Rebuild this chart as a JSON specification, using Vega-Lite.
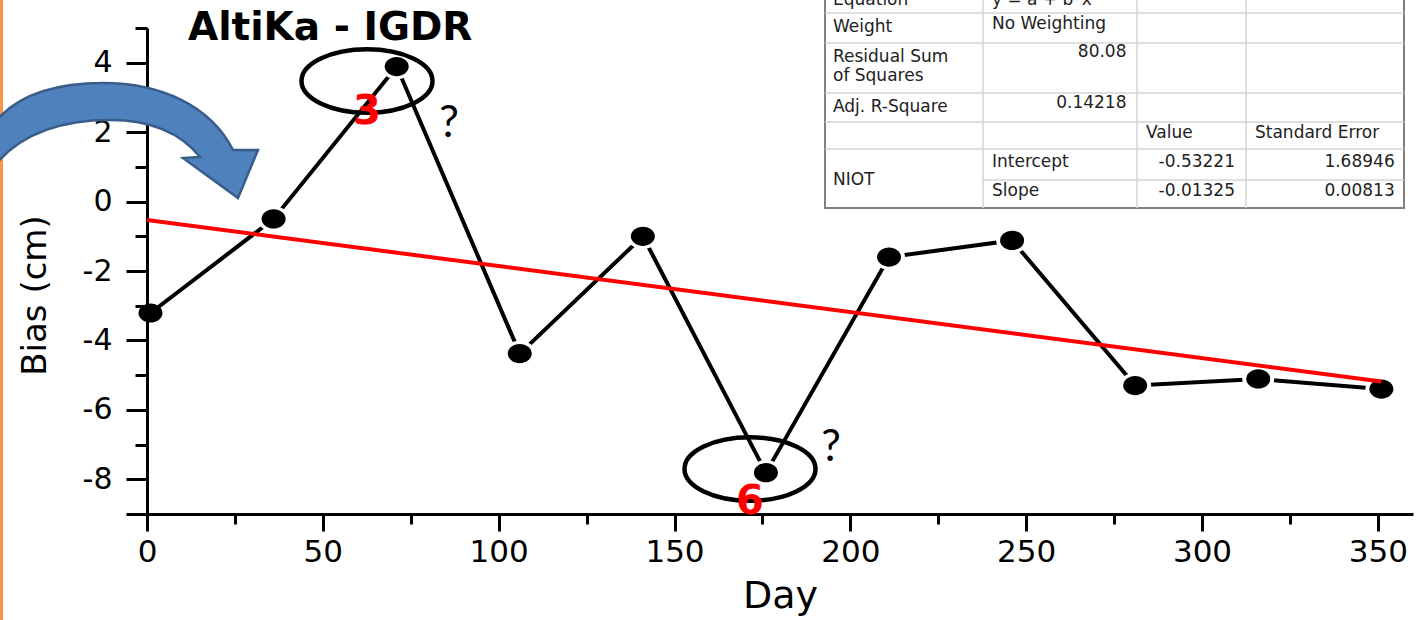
{
  "$schema": "https://vega.github.io/schema/vega-lite/v6.json",
  "autosize": "none",
  "width": 1266,
  "height": 486,
  "padding": {"left": 147, "top": 28, "right": 8, "bottom": 106},
  "background": "white",
  "config": {
    "view": {"stroke": null},
    "axis": {
      "grid": false,
      "domainColor": "black",
      "domainWidth": 3,
      "tickColor": "black",
      "tickWidth": 3,
      "labelColor": "black",
      "titleColor": "black",
      "labelFont": "DejaVu Sans",
      "titleFont": "DejaVu Sans",
      "titleFontWeight": "normal"
    }
  },
  "resolve": {"axis": {"y": "independent"}},
  "datasets": {
    "series": [
      {"day": 1, "bias": -3.21},
      {"day": 36, "bias": -0.50},
      {"day": 71, "bias": 3.89},
      {"day": 106, "bias": -4.38},
      {"day": 141, "bias": -1.00},
      {"day": 176, "bias": -7.81},
      {"day": 211, "bias": -1.60},
      {"day": 246, "bias": -1.12},
      {"day": 281, "bias": -5.30},
      {"day": 316, "bias": -5.11},
      {"day": 351, "bias": -5.40}
    ],
    "fit": [
      {"day": 0, "bias": -0.53221},
      {"day": 351, "bias": -5.18296}
    ],
    "border": [
      {"day": -41.37, "bias": 5.807, "bias2": -12.054}
    ],
    "tableBox": [
      {"day": 192.80, "day2": 357.44, "bias": 6.5, "bias2": -0.185}
    ],
    "tableH": [
      {"day": 192.80, "day2": 357.44, "bias": 5.432},
      {"day": 192.80, "day2": 357.44, "bias": 4.568},
      {"day": 192.80, "day2": 357.44, "bias": 3.128},
      {"day": 192.80, "day2": 357.44, "bias": 2.292},
      {"day": 192.80, "day2": 357.44, "bias": 1.514},
      {"day": 237.73, "day2": 357.44, "bias": 0.621}
    ],
    "tableV": [
      {"day": 237.73, "bias": 6.5, "bias2": -0.185},
      {"day": 281.52, "bias": 6.5, "bias2": -0.185},
      {"day": 312.51, "bias": 6.5, "bias2": -0.185}
    ],
    "tableLeft": [
      {"day": 195.07, "bias": 5.807, "label": "Equation"},
      {"day": 240.28, "bias": 5.807, "label": "y = a + b*x"},
      {"day": 195.07, "bias": 5.037, "label": "Weight"},
      {"day": 240.28, "bias": 5.115, "label": "No Weighting"},
      {"day": 195.07, "bias": 4.165, "label": "Residual Sum"},
      {"day": 195.07, "bias": 3.617, "label": "of Squares"},
      {"day": 195.07, "bias": 2.724, "label": "Adj. R-Square"},
      {"day": 284.08, "bias": 1.975, "label": "Value"},
      {"day": 315.07, "bias": 1.975, "label": "Standard Error"},
      {"day": 195.07, "bias": 0.62, "label": "NIOT"},
      {"day": 240.28, "bias": 1.140, "label": "Intercept"},
      {"day": 240.28, "bias": 0.313, "label": "Slope"}
    ],
    "tableRight": [
      {"day": 278.53, "bias": 4.309, "label": "80.08"},
      {"day": 278.53, "bias": 2.840, "label": "0.14218"},
      {"day": 309.38, "bias": 1.140, "label": "-0.53221"},
      {"day": 354.80, "bias": 1.140, "label": "1.68946"},
      {"day": 309.38, "bias": 0.313, "label": "-0.01325"},
      {"day": 354.80, "bias": 0.313, "label": "0.00813"}
    ],
    "ellipses": [
      {"day": 62.56, "bias": 3.473},
      {"day": 171.47, "bias": -7.704}
    ],
    "cycles": [
      {"day": 62.56, "bias": 2.580, "label": "3"},
      {"day": 171.47, "bias": -8.655, "label": "6"}
    ],
    "questions": [
      {"day": 85.88, "bias": 2.234, "label": "?"},
      {"day": 194.50, "bias": -7.098, "label": "?"}
    ],
    "arrow": [
      {"day": -6.256, "bias": 1.774}
    ],
    "heading": [
      {"day": 11.66, "bias": 4.654, "label": "AltiKa - IGDR"}
    ]
  },
  "layer": [
    {
      "data": {"name": "series"},
      "mark": {"type": "line", "color": "black", "strokeWidth": 4},
      "encoding": {
        "x": {
          "field": "day", "type": "quantitative",
          "scale": {"domain": [0, 360], "nice": false, "zero": false},
          "axis": {
            "title": "Day",
            "values": [0, 25, 50, 75, 100, 125, 150, 175, 200, 225, 250, 275, 300, 325, 350],
            "labelExpr": "datum.value % 50 === 0 ? '' + datum.value : ''",
            "tickSize": {"condition": {"test": "datum.value % 50 === 0", "value": 17}, "value": 10},
            "labelFontSize": 31,
            "labelPadding": 6,
            "labelFlush": false,
            "labelOverlap": false,
            "titleFontSize": 38,
            "titleBaseline": "alphabetic",
            "titleY": 93
          }
        },
        "y": {
          "field": "bias", "type": "quantitative",
          "scale": {"domain": [-9, 5], "nice": false, "zero": false},
          "axis": {
            "orient": "left",
            "title": "Bias (cm)",
            "values": [-9, -8, -6, -4, -2, 0, 2, 4],
            "labelExpr": "datum.value === -9 ? '' : '' + datum.value",
            "tickSize": 21,
            "labelFontSize": 30,
            "labelPadding": 14,
            "labelFlush": false,
            "labelOverlap": false,
            "titleFontSize": 34,
            "titleAngle": -90,
            "titleAlign": "center",
            "titleBaseline": "alphabetic",
            "titleX": -102,
            "titleY": 267
          }
        }
      }
    },
    {
      "data": {"name": "border"},
      "mark": {"type": "rule", "color": "#F79646", "strokeWidth": 3},
      "encoding": {
        "x": {"field": "day", "type": "quantitative"},
        "y": {
          "field": "bias", "type": "quantitative",
          "axis": {
            "orient": "left",
            "values": [-7, -5, -3, -1, 1, 3, 5],
            "tickSize": 12,
            "labels": false,
            "domain": false,
            "title": null
          }
        },
        "y2": {"field": "bias2"}
      }
    },
    {
      "data": {"name": "series"},
      "transform": [{"filter": "datum.day > 1"}],
      "mark": {"type": "point", "filled": true, "color": "white", "opacity": 1,
               "shape": "M -1 0 C -1 -0.442 -0.552 -0.8 0 -0.8 C 0.552 -0.8 1 -0.442 1 0 C 1 0.442 0.552 0.8 0 0.8 C -0.552 0.8 -1 0.442 -1 0 Z",
               "size": 1024},
      "encoding": {
        "x": {"field": "day", "type": "quantitative"},
        "y": {"field": "bias", "type": "quantitative", "axis": null}
      }
    },
    {
      "data": {"name": "series"},
      "mark": {"type": "point", "filled": true, "color": "black", "opacity": 1,
               "shape": "M -1 0 C -1 -0.442 -0.552 -0.8 0 -0.8 C 0.552 -0.8 1 -0.442 1 0 C 1 0.442 0.552 0.8 0 0.8 C -0.552 0.8 -1 0.442 -1 0 Z",
               "size": 576},
      "encoding": {
        "x": {"field": "day", "type": "quantitative"},
        "y": {"field": "bias", "type": "quantitative", "axis": null}
      }
    },
    {
      "data": {"name": "fit"},
      "mark": {"type": "line", "color": "#ff0000", "strokeWidth": 4},
      "encoding": {
        "x": {"field": "day", "type": "quantitative"},
        "y": {"field": "bias", "type": "quantitative", "axis": null}
      }
    },
    {
      "data": {"name": "tableBox"},
      "mark": {"type": "rect", "fill": "white", "stroke": "#808080", "strokeWidth": 2},
      "encoding": {
        "x": {"field": "day", "type": "quantitative"},
        "x2": {"field": "day2"},
        "y": {"field": "bias", "type": "quantitative", "axis": null},
        "y2": {"field": "bias2"}
      }
    },
    {
      "data": {"name": "tableH"},
      "mark": {"type": "rule", "color": "#d4d4d4", "strokeWidth": 1.5},
      "encoding": {
        "x": {"field": "day", "type": "quantitative"},
        "x2": {"field": "day2"},
        "y": {"field": "bias", "type": "quantitative", "axis": null}
      }
    },
    {
      "data": {"name": "tableV"},
      "mark": {"type": "rule", "color": "#d4d4d4", "strokeWidth": 1.5},
      "encoding": {
        "x": {"field": "day", "type": "quantitative"},
        "y": {"field": "bias", "type": "quantitative", "axis": null},
        "y2": {"field": "bias2"}
      }
    },
    {
      "data": {"name": "tableLeft"},
      "mark": {"type": "text", "align": "left", "baseline": "middle", "font": "DejaVu Sans", "fontSize": 17, "color": "#222222"},
      "encoding": {
        "x": {"field": "day", "type": "quantitative"},
        "y": {"field": "bias", "type": "quantitative", "axis": null},
        "text": {"field": "label"}
      }
    },
    {
      "data": {"name": "tableRight"},
      "mark": {"type": "text", "align": "right", "baseline": "middle", "font": "DejaVu Sans", "fontSize": 17, "color": "#222222"},
      "encoding": {
        "x": {"field": "day", "type": "quantitative"},
        "y": {"field": "bias", "type": "quantitative", "axis": null},
        "text": {"field": "label"}
      }
    },
    {
      "data": {"name": "ellipses"},
      "mark": {"type": "point", "filled": false, "stroke": "black", "strokeWidth": 4.5, "opacity": 1,
               "shape": "M -1 0 C -1 -0.268 -0.552 -0.485 0 -0.485 C 0.552 -0.485 1 -0.268 1 0 C 1 0.268 0.552 0.485 0 0.485 C -0.552 0.485 -1 0.268 -1 0 Z",
               "size": 17161},
      "encoding": {
        "x": {"field": "day", "type": "quantitative"},
        "y": {"field": "bias", "type": "quantitative", "axis": null}
      }
    },
    {
      "data": {"name": "arrow"},
      "mark": {"type": "point", "filled": true, "fill": "#4F81BD", "stroke": "#385D8A", "strokeWidth": 2.5, "opacity": 1, "fillOpacity": 1,
               "shape": "M -0.963 -0.133 C -0.778 -0.356 -0.481 -0.422 -0.163 -0.422 C 0.259 -0.422 0.630 -0.259 0.8 0.074 L 0.985 0.074 L 0.837 0.430 L 0.430 0.133 L 0.556 0.126 C 0.407 -0.059 0.185 -0.148 -0.111 -0.148 C -0.481 -0.148 -0.778 -0.037 -0.963 0.185 Z",
               "size": 72900},
      "encoding": {
        "x": {"field": "day", "type": "quantitative"},
        "y": {"field": "bias", "type": "quantitative", "axis": null}
      }
    },
    {
      "data": {"name": "cycles"},
      "mark": {"type": "text", "align": "center", "baseline": "middle", "font": "DejaVu Sans", "fontWeight": "bold", "fontSize": 40, "color": "#ff0000"},
      "encoding": {
        "x": {"field": "day", "type": "quantitative"},
        "y": {"field": "bias", "type": "quantitative", "axis": null},
        "text": {"field": "label"}
      }
    },
    {
      "data": {"name": "questions"},
      "mark": {"type": "text", "align": "center", "baseline": "middle", "font": "Lato", "fontSize": 44, "color": "black"},
      "encoding": {
        "x": {"field": "day", "type": "quantitative"},
        "y": {"field": "bias", "type": "quantitative", "axis": null},
        "text": {"field": "label"}
      }
    },
    {
      "data": {"name": "heading"},
      "mark": {"type": "text", "align": "left", "baseline": "alphabetic", "font": "DejaVu Sans", "fontWeight": "bold", "fontSize": 39, "color": "black"},
      "encoding": {
        "x": {"field": "day", "type": "quantitative"},
        "y": {"field": "bias", "type": "quantitative", "axis": null},
        "text": {"field": "label"}
      }
    }
  ]
}
